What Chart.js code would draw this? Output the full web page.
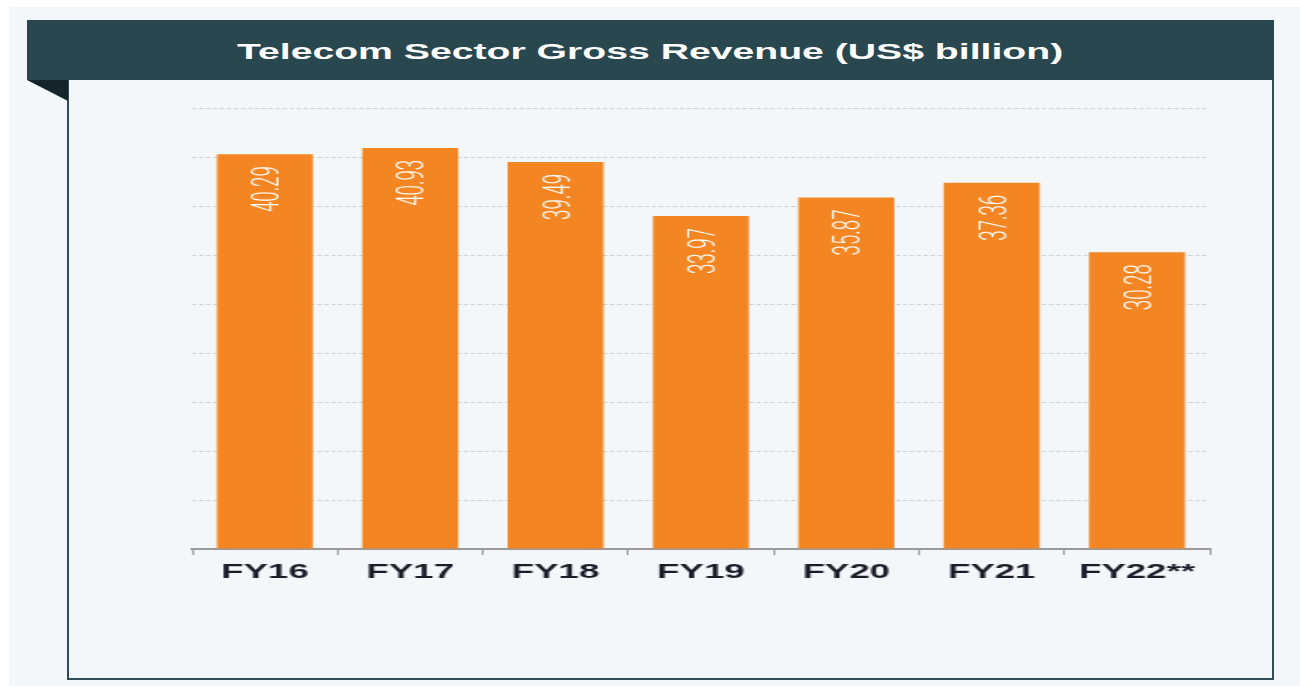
<!DOCTYPE html>
<html>
<head>
<meta charset="utf-8">
<title>Telecom Sector Gross Revenue</title>
<script src="https://cdn.jsdelivr.net/npm/chart.js@4/dist/chart.umd.min.js"></script>
<style>
  html, body { margin: 0; padding: 0; background: #ffffff; }
  body { width: 1300px; height: 686px; position: relative; overflow: hidden; font-family: "Liberation Sans", Arial, sans-serif; }
  #bg { position: absolute; left: 9px; top: 7px; right: 0; bottom: 0; background: #f4f7f9; }
  #header { position: absolute; left: 27px; top: 20px; width: 1247px; height: 60px; background: #29474f; }
  #fold { position: absolute; left: 27px; top: 80px; width: 0; height: 0;
          border-top: 21px solid #16252a; border-left: 41px solid transparent; }
  #box { position: absolute; left: 67px; top: 80px; width: 1203px; height: 598px;
         border: 2px solid #2e4d55; border-top: none; background: #f4f7f9; }
  #title { position: absolute; left: 0; width: 1300px; top: 39px; text-align: center; }
  #title span { display: inline-block; color: #ffffff; font-weight: bold; font-size: 22px;
                transform: scaleX(1.78); transform-origin: center; white-space: nowrap; }
  /* the source picture is stretched sideways, so the canvas is too */
  #chartCanvas { position: absolute; left: 150px; top: 90px; width: 1100px !important; height: 510px !important; }
</style>
</head>
<body>
<div id="bg"></div>
<div id="box"></div>
<div id="header"></div>
<div id="fold"></div>
<div id="title"><span>Telecom Sector Gross Revenue (US$ billion)</span></div>
<canvas id="chartCanvas" width="600" height="510"></canvas>

<script>
// Daten
const jahre = ["FY16", "FY17", "FY18", "FY19", "FY20", "FY21", "FY22**"];
const umsatz = [40.29, 40.93, 39.49, 33.97, 35.87, 37.36, 30.28];
const yMax = 45;
const yStep = 5;

const ctx = document.getElementById("chartCanvas").getContext("2d");

// Werte gedreht in die Balken schreiben
const balkenLabels = {
  id: "balkenLabels",
  afterDatasetsDraw(chart) {
    const c = chart.ctx;
    const meta = chart.getDatasetMeta(0);
    const fs = 21;
    meta.data.forEach((bar, i) => {
      c.save();
      c.translate(bar.x, bar.y + 12);
      c.rotate(-Math.PI / 2);
      c.scale(0.89, 1);
      c.font = "300 " + fs + "px Roboto";
      c.fillStyle = "#ffffff";
      c.textAlign = "right";
      c.textBaseline = "alphabetic";
      c.fillText(umsatz[i].toFixed(2), 0, fs * 0.355);
      c.restore();
    });
  }
};

new Chart(ctx, {
  type: "bar",
  data: {
    labels: jahre,
    datasets: [{
      data: umsatz,
      backgroundColor: "#f38623",
      borderWidth: 0,
      barPercentage: 0.66,
      categoryPercentage: 1
    }]
  },
  options: {
    responsive: false,
    animation: false,
    devicePixelRatio: 1,
    layout: { padding: { left: 23, right: 22, top: 18, bottom: 11 } },
    plugins: {
      legend: { display: false },
      tooltip: { enabled: false }
    },
    scales: {
      x: {
        grid: {
          display: true,
          drawOnChartArea: false,
          drawTicks: true,
          tickLength: 6,
          color: "#9a9a9a",
          lineWidth: 1
        },
        border: { display: true, color: "#9a9a9a", width: 2 },
        ticks: {
          color: "#1a1c28",
          padding: 5,
          font: { family: "'Liberation Sans', Arial", size: 20, weight: "bold" }
        }
      },
      y: {
        min: 0,
        max: yMax,
        ticks: { display: false, stepSize: yStep },
        grid: { color: "#c9cdd1", lineWidth: 1, drawTicks: false },
        border: { display: false, dash: [2.2, 1.6] }
      }
    }
  },
  plugins: [balkenLabels]
});
</script>
</body>
</html>
